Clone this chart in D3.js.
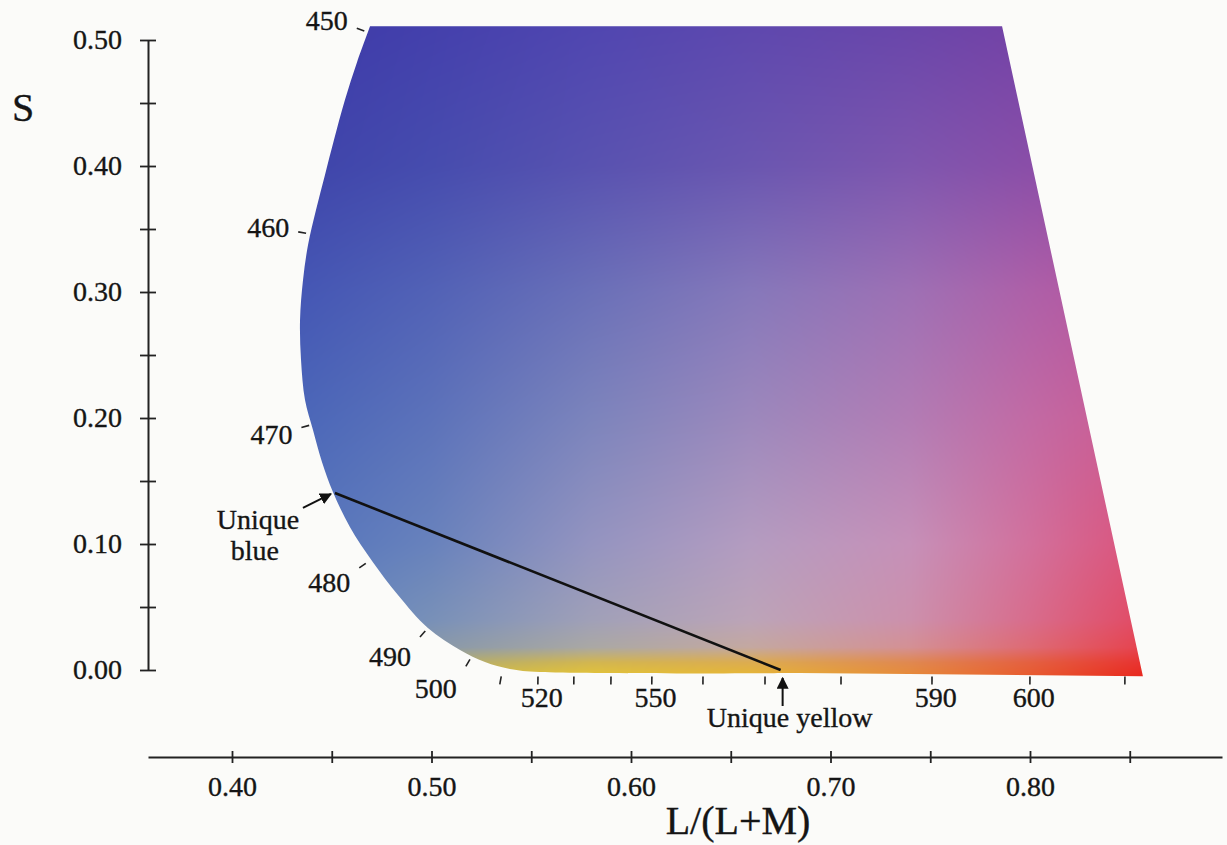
<!DOCTYPE html>
<html>
<head>
<meta charset="utf-8">
<script src="https://cdn.jsdelivr.net/npm/d3@7"></script>
<style>
  html, body { margin: 0; padding: 0; background: #fbfbf9; }
  svg text { font-family: "Liberation Serif", "Times New Roman", serif; fill: #151515;
             stroke: #151515; stroke-width: 0.35px; }
</style>
</head>
<body>
<div id="chart"></div>
<script>
//---------------- data ----------------

// outline of the spectrum locus (L/(L+M), S), smooth part first
const locusL = [0.4692, 0.4627, 0.4566, 0.4511, 0.4466, 0.4421, 0.4381, 0.4356, 0.4341, 0.4346,
                0.4366, 0.4406, 0.4451, 0.4506, 0.4591, 0.4702, 0.4832, 0.4982, 0.5143, 0.5268,
                0.5393, 0.5544, 0.6847];
const locusS = [0.5110, 0.4825, 0.4524, 0.4206, 0.3929, 0.3651, 0.3373, 0.3095, 0.2778, 0.2460,
                0.2143, 0.1905, 0.1651, 0.1413, 0.1135, 0.0865, 0.0595, 0.0333, 0.0159, 0.0063,
                0.0008, -0.0016, -0.0024];
// straight corners: bottom right then top right
const cornerL = [0.8566, 0.7860];
const cornerS = [-0.0050, 0.5110];

// wavelength marks on the locus (nm)
const waveNm = [450, 460, 470, 480, 490, 500, 510, 520, 530, 540, 550, 560, 570, 580, 590, 600, 610];
const waveL  = [0.4682, 0.4391, 0.4406, 0.4687, 0.4982, 0.5203, 0.5353, 0.5534, 0.5714, 0.5900,
                0.6105, 0.6361, 0.6672, 0.7053, 0.7509, 0.8000, 0.8476];
const waveS  = [0.5060, 0.3460, 0.1950, 0.0865, 0.0333, 0.0111, -0.0020, -0.0020, -0.0020, -0.0020,
                -0.0020, -0.0020, -0.0020, -0.0020, -0.0020, -0.0020, -0.0020];
const waveLabelled = [450, 460, 470, 480, 490, 500, 520, 550, 590, 600];

// unique hues
const uniqueBlue = [0.4516, 0.1405];
const uniqueYellow = [0.6750, 0.0];

// axes
const yTicks  = [0, 0.05, 0.10, 0.15, 0.20, 0.25, 0.30, 0.35, 0.40, 0.45, 0.50];
const yLabels = ["0.00", "0.10", "0.20", "0.30", "0.40", "0.50"];
const xTicks  = [0.40, 0.45, 0.50, 0.55, 0.60, 0.65, 0.70, 0.75, 0.80, 0.85];
const xLabels = ["0.40", "0.50", "0.60", "0.70", "0.80"];

// colour field (rows = S, columns = L/(L+M)), sampled from the print
const fieldS = [0.51, 0.40, 0.30, 0.20, 0.10, 0.04, 0.018, 0.006, -0.006];
const fieldL = [0.43, 0.50, 0.58, 0.66, 0.74, 0.80, 0.86];
const fieldColours = [
  ["#3c3aa8", "#4440ac", "#5046b0", "#5e48ae", "#6a46aa", "#7442a6", "#7a3ea2"],
  ["#3e44aa", "#464cae", "#5852b0", "#6a56b0", "#7e56ae", "#8a4ea8", "#9248a4"],
  ["#4456b4", "#5262b6", "#6a70b8", "#8678ba", "#9e70b4", "#ae60a8", "#b8509c"],
  ["#4a66b8", "#5c72ba", "#7c84bc", "#9c88bc", "#b27cb4", "#c26aa4", "#cc5890"],
  ["#5474bc", "#6882bc", "#9494c0", "#b49cc0", "#c690b8", "#d2709c", "#dc5078"],
  ["#5e84c0", "#7890b8", "#a0a0b8", "#bca4b8", "#cc90ac", "#d86c8c", "#e24862"],
  ["#6a8cb8", "#8898a8", "#aaa8a4", "#c4a8a0", "#d49094", "#de6a74", "#e6404c"],
  ["#80989c", "#b0ac70", "#d2b650", "#dcac50", "#e08850", "#e46040", "#e83030"],
  ["#98a070", "#d4bc40", "#e6c634", "#e8b830", "#e88a34", "#e85a2c", "#e8241c"]
];

//---------------- svg + scales ----------------
const width = 1227, height = 845;

const svg = d3.select("#chart").append("svg")
  .attr("width", width)
  .attr("height", height);

const x = d3.scaleLinear().domain([0.40, 0.80]).range([232, 1030]);
const y = d3.scaleLinear().domain([0, 0.50]).range([670, 40]);

//---------------- colour field clipped to the locus ----------------
const smoothPts = locusL.map((l, i) => [x(l), y(locusS[i])]);
const cornerPts = cornerL.map((l, i) => [x(l), y(cornerS[i])]);

const locusPath = d3.line().curve(d3.curveCatmullRom)(smoothPts)
  + cornerPts.map(p => "L" + p[0] + "," + p[1]).join("") + "Z";

svg.append("defs").append("clipPath")
  .attr("id", "locusClip")
  .append("path")
  .attr("d", locusPath);

const grid = fieldColours.map(row => row.map(c => { const o = d3.rgb(c); return [o.r, o.g, o.b]; }));

function fieldColour(l, s) {
  let j = d3.bisectRight(fieldL, l) - 1;
  j = Math.max(0, Math.min(fieldL.length - 2, j));
  let tj = (l - fieldL[j]) / (fieldL[j + 1] - fieldL[j]);
  tj = Math.max(0, Math.min(1, tj));
  let i = 0;
  while (i < fieldS.length - 2 && s < fieldS[i + 1]) i++;
  let ti = (fieldS[i] - s) / (fieldS[i] - fieldS[i + 1]);
  ti = Math.max(0, Math.min(1, ti));
  const a = grid[i][j], b = grid[i][j + 1], c = grid[i + 1][j], d = grid[i + 1][j + 1];
  return [0, 1, 2].map(k => (a[k] * (1 - tj) + b[k] * tj) * (1 - ti) + (c[k] * (1 - tj) + d[k] * tj) * ti);
}

const allPts = smoothPts.concat(cornerPts);
const bx0 = Math.floor(d3.min(allPts, p => p[0])) - 2, bx1 = Math.ceil(d3.max(allPts, p => p[0])) + 2;
const by0 = Math.floor(d3.min(allPts, p => p[1])) - 2, by1 = Math.ceil(d3.max(allPts, p => p[1])) + 2;
const cw = bx1 - bx0, ch = by1 - by0;

const canvas = document.createElement("canvas");
canvas.width = cw; canvas.height = ch;
const ctx = canvas.getContext("2d");
const img = ctx.createImageData(cw, ch);
for (let py = 0; py < ch; py++) {
  const s = y.invert(by0 + py + 0.5);
  for (let px = 0; px < cw; px++) {
    const col = fieldColour(x.invert(bx0 + px + 0.5), s);
    const o = (py * cw + px) * 4;
    img.data[o] = col[0]; img.data[o + 1] = col[1]; img.data[o + 2] = col[2]; img.data[o + 3] = 255;
  }
}
ctx.putImageData(img, 0, 0);

svg.append("image")
  .attr("x", bx0).attr("y", by0)
  .attr("width", cw).attr("height", ch)
  .attr("href", canvas.toDataURL())
  .attr("clip-path", "url(#locusClip)");

//---------------- wavelength ticks + labels ----------------
function outwardNormal(p) {
  // nearest vertex on the smooth outline, tangent from its neighbours
  const pts = smoothPts.concat([cornerPts[0]]);
  let best = 0, bd = Infinity;
  pts.forEach((q, k) => { const dd = (q[0] - p[0]) ** 2 + (q[1] - p[1]) ** 2; if (dd < bd) { bd = dd; best = k; } });
  const a = pts[Math.max(0, best - 1)], b = pts[Math.min(pts.length - 1, best + 1)];
  const tx = b[0] - a[0], ty = b[1] - a[1], n = Math.hypot(tx, ty);
  return [-ty / n, tx / n];
}

const waves = svg.append("g");
waveNm.forEach((nm, i) => {
  const p = [x(waveL[i]), y(waveS[i])];
  const nrm = outwardNormal(p);
  const inner = [p[0] + nrm[0] * 4, p[1] + nrm[1] * 4];
  const outer = [p[0] + nrm[0] * 12, p[1] + nrm[1] * 12];
  waves.append("line")
    .attr("x1", inner[0]).attr("y1", inner[1])
    .attr("x2", outer[0]).attr("y2", outer[1])
    .attr("stroke", "#222").attr("stroke-width", 1.6);
  if (!waveLabelled.includes(nm)) return;
  const t = waves.append("text").attr("font-size", 28).attr("dy", "0.35em").text(nm);
  if (nrm[0] < -0.5) {
    t.attr("text-anchor", "end").attr("x", outer[0] - 9).attr("y", outer[1] + nrm[1] * 25);
  } else {
    t.attr("text-anchor", "middle").attr("x", outer[0] + nrm[0] * 13 + 4).attr("y", outer[1] + nrm[1] * 13);
  }
});

//---------------- unique hue line + arrows ----------------
const defs = svg.select("defs");
defs.append("marker")
  .attr("id", "arrow")
  .attr("viewBox", [0, 0, 10, 10])
  .attr("refX", 9).attr("refY", 5)
  .attr("markerWidth", 6).attr("markerHeight", 6)
  .attr("markerUnits", "strokeWidth")
  .attr("orient", "auto")
  .append("path")
  .attr("d", d3.line()([[0, 0], [10, 5], [0, 10]]))
  .attr("fill", "#111");

svg.append("line")
  .attr("x1", x(uniqueBlue[0])).attr("y1", y(uniqueBlue[1]))
  .attr("x2", x(uniqueYellow[0])).attr("y2", y(uniqueYellow[1]))
  .attr("stroke", "#111").attr("stroke-width", 2.6);

const ub = [x(uniqueBlue[0]), y(uniqueBlue[1])];
svg.append("line")
  .attr("x1", ub[0] - 32).attr("y1", ub[1] + 15)
  .attr("x2", ub[0] - 4).attr("y2", ub[1] + 1)
  .attr("stroke", "#111").attr("stroke-width", 2)
  .attr("marker-end", "url(#arrow)");
svg.append("text").attr("x", ub[0] - 77).attr("y", ub[1] + 36).attr("text-anchor", "middle")
  .attr("font-size", 28).text("Unique");
svg.append("text").attr("x", ub[0] - 80).attr("y", ub[1] + 67).attr("text-anchor", "middle")
  .attr("font-size", 28).text("blue");

const uy = [x(uniqueYellow[0]), y(uniqueYellow[1])];
svg.append("line")
  .attr("x1", uy[0] + 2).attr("y1", uy[1] + 36)
  .attr("x2", uy[0] + 2).attr("y2", uy[1] + 8)
  .attr("stroke", "#111").attr("stroke-width", 2)
  .attr("marker-end", "url(#arrow)");
svg.append("text").attr("x", uy[0] + 9).attr("y", uy[1] + 57).attr("text-anchor", "middle")
  .attr("font-size", 28).text("Unique yellow");

//---------------- axes ----------------
const yAxis = d3.axisLeft(y)
  .tickValues(yTicks)
  .tickSize(8).tickSizeOuter(0).tickPadding(18)
  .tickFormat(d => { const f = d3.format(".2f")(d); return yLabels.includes(f) ? f : ""; });

const gy = svg.append("g").attr("transform", "translate(148,0)").call(yAxis);
gy.attr("font-family", null).attr("font-size", 28);
gy.select(".domain").attr("stroke", "#222").attr("stroke-width", 2);
gy.selectAll(".tick line").attr("x1", 8).attr("stroke", "#222").attr("stroke-width", 1.8);
gy.selectAll(".tick text").attr("fill", "#151515");

const xAxisScale = x.copy().domain([x.invert(148), x.invert(1222)]).range([148, 1222]);
const xAxis = d3.axisBottom(xAxisScale)
  .tickValues(xTicks)
  .tickSize(6).tickSizeOuter(0).tickPadding(13)
  .tickFormat(d => { const f = d3.format(".2f")(d); return xLabels.includes(f) ? f : ""; });

const gx = svg.append("g").attr("transform", "translate(0,757)").call(xAxis);
gx.attr("font-family", null).attr("font-size", 28);
gx.select(".domain").attr("stroke", "#222").attr("stroke-width", 2);
gx.selectAll(".tick line").attr("y1", -6).attr("stroke", "#222").attr("stroke-width", 1.8);
gx.selectAll(".tick text").attr("fill", "#151515");

// axis titles
svg.append("text").attr("x", 23).attr("y", 121).attr("text-anchor", "middle")
  .attr("font-size", 40).text("S");
svg.append("text").attr("x", 738).attr("y", 834).attr("text-anchor", "middle")
  .attr("font-size", 40).text("L/(L+M)");
</script>
</body>
</html>
